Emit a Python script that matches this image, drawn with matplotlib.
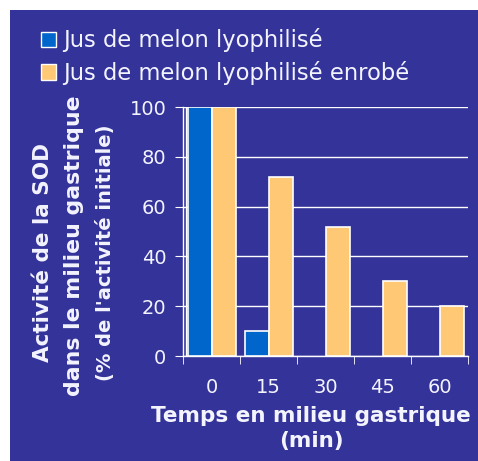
import numpy as np
import matplotlib.pyplot as plt
from matplotlib.patches import Rectangle, Patch

# Data
times = ['0', '15', '30', '45', '60']
lyophilise = [100, 10, 0, 0, 0]
enrobe = [100, 72, 52, 30, 20]
series_names = ['Jus de melon lyophilisé', 'Jus de melon lyophilisé enrobé']

BG = '#333399'
BLUE = '#0066CC'
ORANGE = '#FFC875'
TXT = '#F4F4FF'

fig = plt.figure(figsize=(4.78, 4.61), dpi=100, facecolor='white')
fig.patches.append(Rectangle((10/478, 0), 1 - 10/478, 1 - 10/461,
                             transform=fig.transFigure, facecolor=BG,
                             edgecolor='none', zorder=-10))

ax = fig.add_axes([183/478, 1 - 356/461, 285/478, 249/461])
ax.set_facecolor(BG)

x = np.arange(len(times))
w = 0.42
# zero-height bars get no outline, as in the original
lw_blue = [1.2 if v > 0 else 0 for v in lyophilise]
ax.bar(x - 0.21, lyophilise, w, color=BLUE, edgecolor='white', linewidth=lw_blue, zorder=3)
ax.bar(x + 0.22, enrobe, w, color=ORANGE, edgecolor='white', linewidth=1.2, zorder=3)

ax.set_xlim(-0.5, 4.5)
ax.set_ylim(0, 100)
ax.set_yticks(range(0, 101, 20))
ax.yaxis.grid(True, color='white', linewidth=1)
ax.set_axisbelow(True)

ax.set_xticks(x)
ax.set_xticklabels(times)
ax.set_xticks(np.arange(-0.5, 5, 1), minor=True)
ax.tick_params(axis='x', which='major', length=0, pad=16, labelsize=14, labelcolor=TXT)
ax.tick_params(axis='x', which='minor', length=6, color='white', direction='out')
ax.tick_params(axis='y', length=6, color='white', labelsize=14, labelcolor=TXT, pad=6)

for s in ['top', 'right']:
    ax.spines[s].set_visible(False)
for s in ['left', 'bottom']:
    ax.spines[s].set_color('white')
    ax.spines[s].set_linewidth(1)
ax.axvline(-0.45, color='white', linewidth=1, zorder=2)

# axis titles
fig.text(311/478, 1 - 416/461, 'Temps en milieu gastrique',
         ha='center', va='center', fontsize=15.5, fontweight='bold', color=TXT)
fig.text(311/478, 1 - 441/461, '(min)',
         ha='center', va='center', fontsize=15.5, fontweight='bold', color=TXT)

fig.text(43/478, 1 - 253/461, 'Activité de la SOD', rotation=90,
         ha='center', va='center', fontsize=15.5, fontweight='bold', color=TXT)
fig.text(74/478, 1 - 246/461, 'dans le milieu gastrique', rotation=90,
         ha='center', va='center', fontsize=15.8, fontweight='bold', color=TXT)
fig.text(105/478, 1 - 253/461, "(% de l'activité initiale)", rotation=90,
         ha='center', va='center', fontsize=14, fontweight='bold', color=TXT)

handles = [Patch(facecolor=BLUE, edgecolor='white'),
           Patch(facecolor=ORANGE, edgecolor='white')]
leg = fig.legend(handles, series_names, loc='upper left',
                 bbox_to_anchor=(21/478, 1 - 8/461), frameon=False,
                 fontsize=16.3, handlelength=0.65, handleheight=0.65,
                 handletextpad=0.3, labelspacing=0.38, labelcolor=TXT)

fig.savefig('out.png', dpi=100, facecolor='white')
